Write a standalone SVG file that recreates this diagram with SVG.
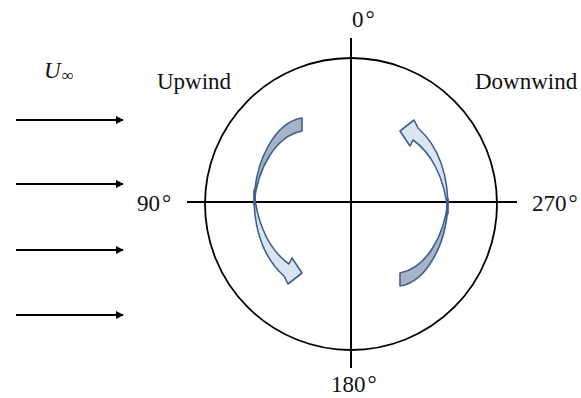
<svg xmlns="http://www.w3.org/2000/svg" width="581" height="398" viewBox="0 0 581 398">
<defs>
<style>
.t{font-family:"Liberation Serif","Times New Roman",serif;font-size:23px;fill:#111}
.ax{stroke:#000;stroke-width:2;fill:none}
.fl{stroke:#000;stroke-width:2;fill:none;marker-end:url(#ah)}
.dk{fill:#a6b4c7;stroke:#3f5f8b;stroke-width:1.6;stroke-linejoin:round}
.lt{fill:#dbe5f2;stroke:#3f5f8b;stroke-width:1.6;stroke-linejoin:round}
</style>
<marker id="ah" viewBox="0 0 10 10" refX="9" refY="5" markerWidth="4" markerHeight="4" orient="auto" markerUnits="strokeWidth">
<path d="M0,0 L10,5 L0,10 Z" fill="#000"/>
</marker>
<g id="curv">
<path class="dk" d="M302,118 C276,122 254,160 254,205 C257,168 276,136 302,131 Z"/>
<path class="lt" d="M254,190 C253,233 266,260 284,276 L288,284 L302,273 L292,258 L289,264 C272,252 257,228 254,190 Z"/>
</g>
</defs>
<rect width="581" height="398" fill="#fff"/>
<g id="rotor">
<circle cx="351" cy="204" r="146" fill="none" stroke="#000" stroke-width="1.8"/>
</g>
<g id="connectors">
<line class="ax" x1="351" y1="38" x2="351" y2="368"/>
<line class="ax" x1="187" y1="202" x2="517" y2="202"/>
<line class="fl" x1="16" y1="120" x2="123" y2="120"/>
<line class="fl" x1="16" y1="184" x2="123" y2="184"/>
<line class="fl" x1="16" y1="250" x2="123" y2="250"/>
<line class="fl" x1="16" y1="315" x2="123" y2="315"/>
</g>
<g id="arrow-left"><use href="#curv"/></g>
<g id="arrow-right"><use href="#curv" transform="rotate(180 351 202)"/></g>
<g id="labels">
<text class="t" x="352" y="27">0<tspan dx="2">°</tspan></text>
<text class="t" x="331" y="392">180<tspan dx="2">°</tspan></text>
<text class="t" x="137" y="211">90<tspan dx="2">°</tspan></text>
<text class="t" x="532" y="211">270<tspan dx="2">°</tspan></text>
<text class="t" x="157" y="89">Upwind</text>
<text class="t" x="475" y="89">Downwind</text>
<text class="t" x="44" y="78" font-size="24" font-style="italic">U<tspan font-size="17" font-style="normal" dx="1" dy="3">∞</tspan></text>
</g>
</svg>
